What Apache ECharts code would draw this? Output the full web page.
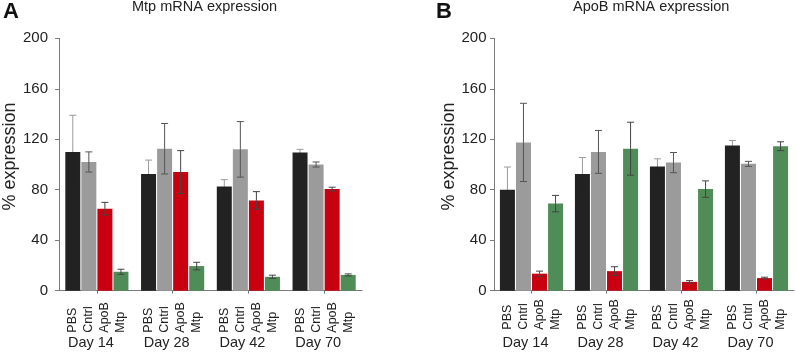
<!DOCTYPE html>
<html>
<head>
<meta charset="utf-8">
<script src="https://cdn.jsdelivr.net/npm/echarts@6/dist/echarts.min.js"></script>
<style>
html,body{margin:0;padding:0;background:#fff;}
#chart{width:797px;height:353px;}
</style>
</head>
<body>
<div id="chart"></div>
<script>
const days = ['Day 14', 'Day 28', 'Day 42', 'Day 70'];
const groupNames = ['PBS', 'Cntrl', 'ApoB', 'Mtp'];
const yTicks = [0, 40, 80, 120, 160, 200];
const titleA = 'Mtp mRNA expression';
const titleB = 'ApoB mRNA expression';

// Panel A: Mtp mRNA expression (mean, error)
const mtpPBS = [110, 92.5, 82.5, 109.5];
const mtpPBSErr = [29, 11, 5.5, 2.5];
const mtpCntrl = [102, 112.5, 112, 100];
const mtpCntrlErr = [8, 20, 22, 2];
const mtpApoB = [65, 94, 71.5, 80.5];
const mtpApoBErr = [5, 17, 7, 1.5];
const mtpMtp = [15, 19.5, 11, 12.5];
const mtpMtpErr = [2, 3, 1.3, 0.8];

// Panel B: ApoB mRNA expression (mean, error)
const apoPBS = [80, 92.5, 98.5, 115];
const apoPBSErr = [18, 13, 6, 4];
const apoCntrl = [117.5, 110, 101.5, 100.5];
const apoCntrlErr = [31, 17, 8, 2];
const apoApoB = [13.5, 15.5, 7, 10];
const apoApoBErr = [2, 3.5, 1, 0.7];
const apoMtp = [69, 112.5, 80.5, 114.5];
const apoMtpErr = [6.5, 21, 6.5, 3.5];

const colors = ['#222222', '#9b9b9b', '#c9000f', '#4f8c58'];
const errUpper = ['#9a9a9a', '#555555', '#444444', '#444444'];
const errLower = ['#222222', '#555555', '#444444', '#444444'];
const BAR_W = 15;
const GAP_PCT = 0.07;

const panelA = [[mtpPBS, mtpPBSErr], [mtpCntrl, mtpCntrlErr], [mtpApoB, mtpApoBErr], [mtpMtp, mtpMtpErr]];
const panelB = [[apoPBS, apoPBSErr], [apoCntrl, apoCntrlErr], [apoApoB, apoApoBErr], [apoMtp, apoMtpErr]];

function errRenderer(slot) {
  return function (params, api) {
    const x = api.value(0), m = api.value(1), e = api.value(2);
    const hi = api.coord([x, m + e]);
    const mid = api.coord([x, m]);
    const lo = api.coord([x, m - e]);
    const off = (slot - 1.5) * (BAR_W * (1 + GAP_PCT));
    const cx = hi[0] + off;
    const cap = 3.5;
    const up = { stroke: errUpper[slot], lineWidth: 1 };
    const dn = { stroke: errLower[slot], lineWidth: 1 };
    return {
      type: 'group',
      children: [
        { type: 'line', shape: { x1: cx, y1: hi[1], x2: cx, y2: mid[1] }, style: up },
        { type: 'line', shape: { x1: cx, y1: mid[1], x2: cx, y2: lo[1] }, style: dn },
        { type: 'line', shape: { x1: cx - cap, y1: hi[1], x2: cx + cap, y2: hi[1] }, style: up },
        { type: 'line', shape: { x1: cx - cap, y1: lo[1], x2: cx + cap, y2: lo[1] }, style: dn }
      ]
    };
  };
}

function buildSeries(panel, idx, labelOffset) {
  const out = [];
  panel.forEach(function (pair, i) {
    out.push({
      type: 'bar',
      name: groupNames[i],
      xAxisIndex: idx, yAxisIndex: idx,
      data: pair[0],
      barWidth: BAR_W,
      barGap: (GAP_PCT * 100) + '%',
      itemStyle: { color: colors[i] },
      label: {
        show: true, position: 'bottom', distance: 39, rotate: 90,
        align: 'left', verticalAlign: 'middle',
        formatter: '{a}', fontSize: 12.5, color: '#222',
        fontFamily: 'Liberation Sans, Arial, sans-serif',
        offset: labelOffset
      }
    });
  });
  panel.forEach(function (pair, i) {
    out.push({
      type: 'custom',
      xAxisIndex: idx, yAxisIndex: idx,
      renderItem: errRenderer(i),
      data: pair[0].map(function (v, k) { return [k, v, pair[1][k]]; }),
      encode: { x: 0, y: 1 },
      z: 5, silent: true
    });
  });
  return out;
}

const font = 'Liberation Sans, Arial, sans-serif';
function xAxisCfg(idx) {
  return {
    type: 'category', gridIndex: idx, data: days,
    axisLine: { lineStyle: { color: '#7a7a7a', width: 1 } },
    axisTick: { show: true, alignWithLabel: true, length: 3, lineStyle: { color: '#7a7a7a' } },
    axisLabel: { margin: 45, fontSize: 14.5, color: '#222', fontFamily: font, padding: [0, 12, 0, 0] }
  };
}
function yAxisCfg(idx, margin, nameGap) {
  return {
    type: 'value', gridIndex: idx, min: yTicks[0], max: yTicks[yTicks.length - 1], interval: 40,
    name: '% expression', nameLocation: 'middle', nameGap: nameGap,
    nameTextStyle: { fontSize: 18, color: '#222', fontFamily: font, padding: [0, 0, 0, 16] },
    axisLine: { show: true, lineStyle: { color: '#7a7a7a', width: 1 } },
    axisTick: { show: true, length: 4, lineStyle: { color: '#7a7a7a' } },
    splitLine: { show: false },
    axisLabel: { margin: margin, fontSize: 15, color: '#222', fontFamily: font }
  };
}

const chart = echarts.init(document.getElementById('chart'));
chart.setOption({
  animation: false,
  backgroundColor: '#fff',
  title: [
    { text: titleA, left: 132, top: -1, padding: 0, textStyle: { fontSize: 14.5, fontWeight: 'normal', color: '#222', fontFamily: font } },
    { text: titleB, left: 573, top: -1, padding: 0, textStyle: { fontSize: 14.5, fontWeight: 'normal', color: '#222', fontFamily: font } },
    { text: 'A', left: 3, top: 1, padding: 0, textStyle: { fontSize: 22, fontWeight: 'bold', color: '#111', fontFamily: font } },
    { text: 'B', left: 436, top: 1, padding: 0, textStyle: { fontSize: 22, fontWeight: 'bold', color: '#111', fontFamily: font } }
  ],
  grid: [
    { left: 59, top: 38.3, width: 303, height: 252.4 },
    { left: 494, top: 38.3, width: 300, height: 252.4 }
  ],
  xAxis: [xAxisCfg(0), xAxisCfg(1)],
  yAxis: [yAxisCfg(0, 11, 37), yAxisCfg(1, 7.5, 27)],
  series: buildSeries(panelA, 0, [-3, 0]).concat(buildSeries(panelB, 1, [0, 0]))
});
</script>
</body>
</html>
